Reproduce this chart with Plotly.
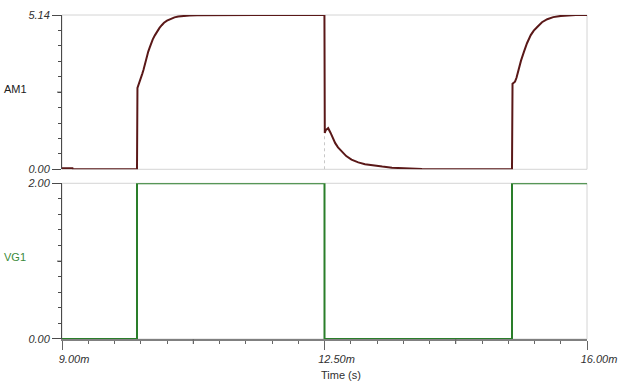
import plotly.graph_objects as go
from plotly.subplots import make_subplots

# ---- data (time in ms) ----
am1_t = [9.0, 9.14, 9.145, 10.0, 10.006, 10.03, 10.05, 10.07, 10.086, 10.10, 10.12, 10.135, 10.15, 10.17,
         10.19, 10.21, 10.24, 10.26, 10.28, 10.30, 10.33, 10.36, 10.40, 10.43, 10.465, 10.50, 10.55,
         10.58, 10.64, 10.70, 10.8, 11.0, 12.0, 12.499,
         12.5, 12.504, 12.515, 12.549, 12.58, 12.61, 12.643, 12.68, 12.73, 12.79, 12.86, 12.95, 13.04,
         13.15, 13.27, 13.4, 13.53, 13.8, 14.15,
         15.0, 15.007, 15.02, 15.04, 15.06, 15.07, 15.095, 15.12, 15.16, 15.2, 15.25, 15.29, 15.34,
         15.4, 15.47, 15.55, 15.65, 15.75, 15.85, 16.0]
am1_v = [0.035, 0.035, 0.0, 0.0, 2.71, 2.87, 2.98, 3.18, 3.31, 3.46, 3.66, 3.78, 3.92, 4.06,
         4.20, 4.33, 4.47, 4.56, 4.64, 4.71, 4.80, 4.88, 4.95, 4.99, 5.03, 5.06, 5.09,
         5.10, 5.115, 5.125, 5.135, 5.14, 5.14, 5.14,
         1.42, 1.21, 1.30, 1.37, 1.22, 1.04, 0.87, 0.73, 0.59, 0.44, 0.32, 0.23, 0.17,
         0.12, 0.09, 0.055, 0.035, 0.01, 0.0,
         0.0, 2.85, 2.87, 2.92, 3.05, 3.15, 3.36, 3.62, 3.92, 4.2, 4.47, 4.62, 4.75,
         4.9, 5.0, 5.07, 5.11, 5.13, 5.14, 5.14]

vg1_t = [9.0, 10.0, 10.0, 12.5, 12.5, 15.0, 15.0, 16.0]
vg1_v = [0.0, 0.0, 2.0, 2.0, 0.0, 0.0, 2.0, 2.0]

cursor_t = [12.5, 12.5]
cursor_v = [0.0, 1.2]

x_range = [9.0, 16.0]
x_major = [9.0, 12.5, 16.0]
x_major_text = ["9.00m", "12.50m", "16.00m"]
x_mid = [10.75, 14.25]
am1_range = [0.0, 5.14]
am1_ticktext = ["0.00", "5.14"]
vg1_range = [0.0, 2.0]
vg1_ticktext = ["0.00", "2.00"]

AM_COLOR = "#5a1818"
VG_COLOR = "#2a7e2a"
AXIS_DARK = "#4a4a4a"
GRID = "#d4d4d4"
FONT = "Liberation Sans, Arial, sans-serif"

fig = make_subplots(rows=2, cols=1, shared_xaxes=False, vertical_spacing=0.043)

fig.add_trace(go.Scatter(x=cursor_t, y=cursor_v, mode="lines",
                         line=dict(color="#c8c8c8", width=1, dash="dot"),
                         hoverinfo="skip", showlegend=False), row=1, col=1)
fig.add_trace(go.Scatter(x=am1_t, y=am1_v, mode="lines", line=dict(color=AM_COLOR, width=2),
                         showlegend=False, cliponaxis=False), row=1, col=1)
fig.add_trace(go.Scatter(x=vg1_t, y=vg1_v, mode="lines", line=dict(color=VG_COLOR, width=2),
                         showlegend=False, cliponaxis=False), row=2, col=1)

tickfont = dict(family=FONT, size=11, color="#303030", style="italic")

# x axes
fig.update_xaxes(range=x_range, showgrid=False, zeroline=False, row=1, col=1, automargin=False,
                 showticklabels=False, ticks="", showline=False, domain=[0, 1])
fig.update_xaxes(range=x_range, showgrid=False, zeroline=False, row=2, col=1, automargin=False,
                 tickmode="array", tickvals=x_major, ticktext=x_major_text,
                 ticks="outside", ticklen=9, tickcolor="#666666", tickwidth=1,
                 showline=True, linecolor="#808080", linewidth=2,
                 tickfont=tickfont, ticklabelshift=12,
                 minor=dict(dtick=0.35, tick0=9.0, ticks="outside", ticklen=3,
                            tickcolor="#666666", tickwidth=1, showgrid=False),
                 domain=[0, 1])

# y axes
fig.update_yaxes(range=am1_range, row=1, col=1, domain=[0.5238, 1.0], automargin=False,
                 tickmode="array", tickvals=am1_range, ticktext=am1_ticktext,
                 ticks="outside", ticklen=9, tickcolor=AXIS_DARK, tickwidth=1,
                 showline=True, linecolor=AXIS_DARK, linewidth=1,
                 showgrid=False, zeroline=False, tickfont=tickfont,
                 minor=dict(dtick=0.514, tick0=0, ticks="outside", ticklen=3,
                            tickcolor=AXIS_DARK, tickwidth=1, showgrid=False))
fig.update_yaxes(range=vg1_range, row=2, col=1, domain=[0.0, 0.4806], automargin=False,
                 tickmode="array", tickvals=vg1_range, ticktext=vg1_ticktext,
                 ticks="outside", ticklen=9, tickcolor=AXIS_DARK, tickwidth=1,
                 showline=True, linecolor=AXIS_DARK, linewidth=1,
                 showgrid=False, zeroline=False, tickfont=tickfont,
                 minor=dict(dtick=0.2, tick0=0, ticks="outside", ticklen=3,
                            tickcolor=AXIS_DARK, tickwidth=1, showgrid=False))

# light frames
for xr, yr in [("x domain", "y domain"), ("x2 domain", "y2 domain")]:
    fig.add_shape(type="rect", xref=xr, yref=yr, x0=0, x1=1, y0=0, y1=1,
                  line=dict(color=GRID, width=1), layer="below")

# mid-length ticks
for ym, yref in [(sum(am1_range) / 2, "y"), (sum(vg1_range) / 2, "y2")]:
    fig.add_shape(type="line", xref="paper", yref=yref, xsizemode="pixel", xanchor=0,
                  x0=-5, x1=0, y0=ym, y1=ym, line=dict(color=AXIS_DARK, width=1))
for xm in x_mid:
    fig.add_shape(type="line", xref="x2", yref="paper", ysizemode="pixel", yanchor=0,
                  x0=xm, x1=xm, y0=0, y1=-5, line=dict(color="#666666", width=1))

lab = dict(family=FONT, size=11)
fig.add_annotation(text="AM1", xref="paper", yref="y domain", x=0, y=0.52, xanchor="left",
                   yanchor="middle", xshift=-60, showarrow=False, font=dict(color="#202020", **lab))
fig.add_annotation(text="VG1", xref="paper", yref="y2 domain", x=0, y=0.529, xanchor="left",
                   yanchor="middle", xshift=-60, showarrow=False, font=dict(color="#3a8a3a", **lab))
fig.add_annotation(text="Time (s)", xref="paper", yref="paper", x=0.532, y=-0.111,
                   xanchor="center", yanchor="middle", showarrow=False,
                   font=dict(color="#303030", **lab))

fig.update_layout(width=619, height=389, margin=dict(l=62, r=32, t=15, b=50),
                  paper_bgcolor="white", plot_bgcolor="white", showlegend=False,
                  font=dict(family=FONT, size=11))

fig.write_html("out.html")
